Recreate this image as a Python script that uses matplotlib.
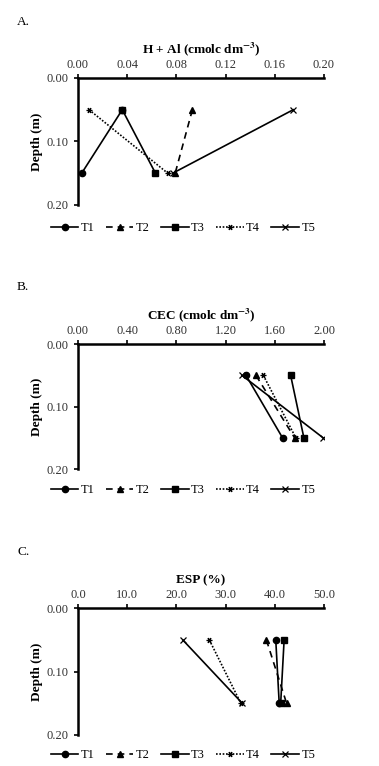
import matplotlib.pyplot as plt

plt.rcParams['font.family'] = ['Liberation Serif', 'DejaVu Serif']
plt.rcParams['mathtext.fontset'] = 'stix'

depth = [0.05, 0.15]
series = ["T1", "T2", "T3", "T4", "T5"]

# H + Al (cmolc dm-3)
hal = {"T1": [0.036, 0.003], "T2": [0.093, 0.079], "T3": [0.036, 0.063],
       "T4": [0.009, 0.073], "T5": [0.175, 0.077]}
# CEC (cmolc dm-3)
cec = {"T1": [1.366, 1.664], "T2": [1.447, 1.762], "T3": [1.729, 1.837],
       "T4": [1.507, 1.772], "T5": [1.333, 1.995]}
# ESP (%)
esp = {"T1": [40.2, 40.9], "T2": [38.3, 42.4], "T3": [41.9, 41.2],
       "T4": [26.7, 33.1], "T5": [21.3, 33.4]}

styles = {
    "T1": dict(linestyle="-", marker="o", markersize=4.5),
    "T2": dict(linestyle=(0, (4, 3)), marker="^", markersize=4.5),
    "T3": dict(linestyle="-", marker="s", markersize=4),
    "T4": dict(linestyle=(0, (1, 1)), marker=(6, 2, 90), markersize=4, markeredgewidth=0.9),
    "T5": dict(linestyle="-", marker="x", markersize=4, markeredgewidth=0.9),
}

panels = [
    ("A.", hal, "H + Al (cmolc dm$^{\\mathbf{-3}}$)", [0, 0.04, 0.08, 0.12, 0.16, 0.20], "{:.2f}",
     0.7324, 0.1658, 22, 228),
    ("B.", cec, "CEC (cmolc dm$^{\\mathbf{-3}}$)", [0, 0.4, 0.8, 1.2, 1.6, 2.0], "{:.2f}",
     0.3873, 0.1636, 287, 490),
    ("C.", esp, "ESP (%)", [0, 10, 20, 30, 40, 50], "{:.1f}",
     0.0405, 0.1654, 552, 755),
]

fig = plt.figure(figsize=(3.79, 7.66), dpi=100)
H = 766.0
for letter, data, xlabel, xticks, fmt, bottom, height, letter_y, leg_y in panels:
    ax = fig.add_axes([0.2058, bottom, 0.649, height])
    for s in series:
        ax.plot(data[s], depth, color="black", linewidth=1.2, label=s, **styles[s])
    ax.set_xlim(xticks[0], xticks[-1])
    ax.set_ylim(0.20, 0.0)
    ax.set_xticks(xticks)
    ax.set_xticklabels([fmt.format(v) for v in xticks])
    ax.set_yticks([0.0, 0.1, 0.2])
    ax.set_yticklabels(["0.00", "0.10", "0.20"])
    ax.xaxis.tick_top()
    ax.xaxis.set_label_position("top")
    ax.tick_params(axis="both", direction="out", length=3, width=1.2,
                   labelsize=9, colors="black", labelcolor="#333333")
    ax.tick_params(axis="x", pad=2)
    for side in ["right", "bottom"]:
        ax.spines[side].set_visible(False)
    for side in ["left", "top"]:
        ax.spines[side].set_linewidth(1.8)
    ax.set_xlabel(xlabel, fontsize=9.5, fontweight="bold", labelpad=4)
    ax.set_ylabel("Depth (m)", fontsize=9.5, fontweight="bold", labelpad=3)
    fig.text(17 / 379, 1 - letter_y / H, letter, fontsize=9.5, va="center", ha="left")
    fig.legend(*ax.get_legend_handles_labels(), loc="center",
               bbox_to_anchor=(183 / 379, 1 - leg_y / H), ncol=5, frameon=False,
               fontsize=9, handlelength=2.2, handletextpad=0.2, columnspacing=0.9,
               borderaxespad=0)

fig.savefig("out.png", dpi=100)
